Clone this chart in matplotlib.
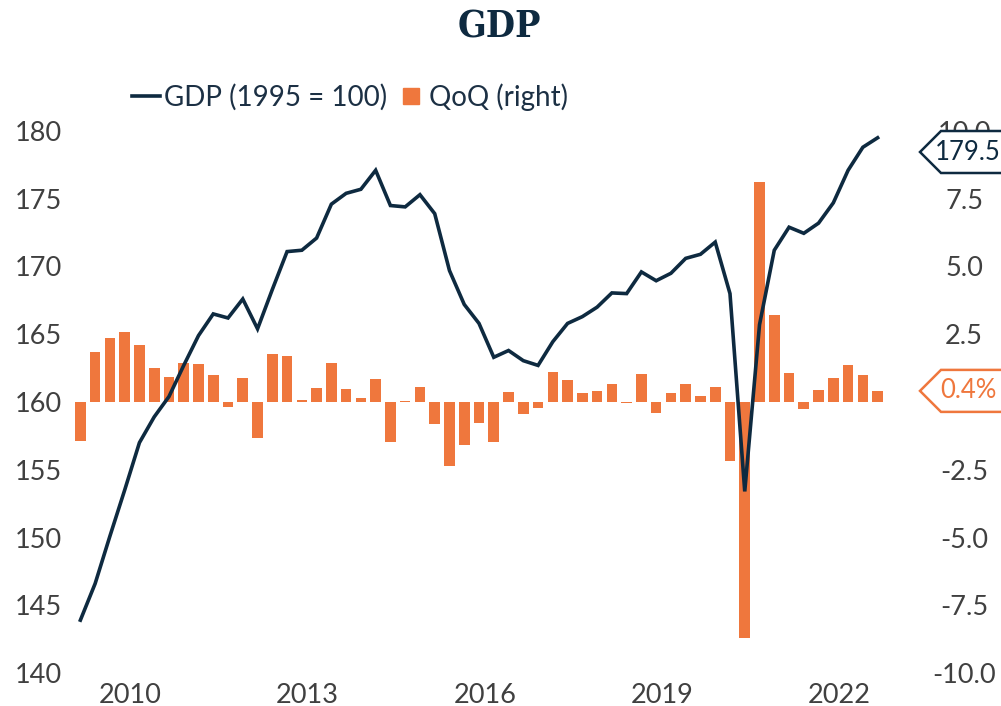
import numpy as np
import matplotlib
matplotlib.use("Agg")
import matplotlib.pyplot as plt
from matplotlib.lines import Line2D
from matplotlib.patches import Polygon

# GDP index (1995 = 100), quarterly 2009Q1 .. 2022Q3
gdp = [143.9, 146.6, 150.1, 153.5, 157.0, 158.9, 160.4, 162.7, 164.9, 166.5,
       166.2, 167.6, 165.4, 168.3, 171.1, 171.2, 172.1, 174.6, 175.4, 175.7,
       177.1, 174.5, 174.4, 175.3, 173.9, 169.7, 167.2, 165.8, 163.3, 163.8,
       163.05, 162.7, 164.45, 165.8, 166.3, 167.0, 168.05, 168.0, 169.6, 168.95,
       169.5, 170.6, 170.9, 171.8, 168.0, 153.4, 165.7, 171.2, 172.9, 172.45,
       173.2, 174.7, 177.1, 178.8, 179.5]

# quarter on quarter change, %
qoq = [-1.43, 1.83, 2.36, 2.58, 2.10, 1.25, 0.91, 1.43, 1.39, 0.98,
       -0.18, 0.87, -1.34, 1.77, 1.71, 0.07, 0.53, 1.45, 0.47, 0.15,
       0.84, -1.46, 0.05, 0.54, -0.81, -2.35, -1.57, -0.79, -1.49, 0.36,
       -0.46, -0.22, 1.10, 0.81, 0.33, 0.41, 0.66, -0.05, 1.03, -0.39,
       0.32, 0.66, 0.21, 0.55, -2.18, -8.71, 8.13, 3.21, 1.06, -0.25,
       0.44, 0.87, 1.35, 0.98, 0.41]

years = [2010, 2013, 2016, 2019, 2022]
left_ticks = [140, 145, 150, 155, 160, 165, 170, 175, 180]
right_ticks = [-10.0, -7.5, -5.0, -2.5, 0.0, 2.5, 5.0, 7.5, 10.0]

navy = "#0e2a40"
orange = "#ef773d"
grey = "#404040"
font = ["Lato", "DejaVu Sans"]
plt.rcParams["font.family"] = font

W, H = 1001, 706
fig = plt.figure(figsize=(W / 100, H / 100), dpi=100)

ax_l, ax_r, ax_t, ax_b = 73, 885, 131, 673
ax = fig.add_axes([ax_l / W, 1 - ax_b / H, (ax_r - ax_l) / W, (ax_b - ax_t) / H])
ax2 = ax.twinx()

x = np.arange(len(gdp))
ax2.bar(x, qoq, width=0.72, color=orange, edgecolor="none")
ax.plot(x, gdp, color=navy, lw=2.6, solid_joinstyle="miter", zorder=5)

ax.set_zorder(ax2.get_zorder() + 1)
ax.patch.set_visible(False)

ax.set_xlim(-0.5, len(gdp) - 0.5)
ax.set_ylim(140, 180)
ax2.set_ylim(-10, 10)

ax.set_xticks([4 * (y - 2009) - 0.6 for y in years])
ax.set_xticklabels([str(y) for y in years])
ax.set_yticks(left_ticks)
ax.set_yticklabels([str(t) for t in left_ticks])
ax2.set_yticks(right_ticks)
ax2.set_yticklabels([f"{t:.1f}" for t in right_ticks])

for a in (ax, ax2):
    for s in a.spines.values():
        s.set_visible(False)
    a.tick_params(length=0, labelsize=19.5, labelcolor=grey)
ax.tick_params(axis="y", pad=8)
ax.tick_params(axis="x", pad=7)
ax2.tick_params(axis="y", pad=57)
for lab in ax2.get_yticklabels():
    lab.set_horizontalalignment("center")

# title
fig.text(499 / W, 1 - 27 / H, "GDP", ha="center", va="center", fontsize=27,
         fontweight="bold", family="DejaVu Serif", fontstretch="condensed", color=navy)

# legend
handles = [Line2D([], [], color=navy, lw=2.6),
           Line2D([], [], color=orange, marker="s", ls="none", markersize=11.5)]
leg = fig.legend(handles, ["GDP (1995 = 100)", "QoQ (right)"], ncol=2,
                 loc="center", bbox_to_anchor=(350 / W, 1 - 97 / H), frameon=False,
                 fontsize=20, handlelength=1.0, handletextpad=0.15, columnspacing=0.35,
                 borderpad=0, borderaxespad=0)
for t in leg.get_texts():
    t.set_color("#1c3044")


# value tags on the right edge
def tag(ypix, text, color):
    half = 21
    ypix = min(ypix, H - ax_t - half)
    tip = ax_r + 35
    corner = tip + 21
    pts = [(tip, ypix), (corner, ypix + half), (W + 10, ypix + half),
           (W + 10, ypix - half), (corner, ypix - half)]
    pts = [(px / W, py / H) for px, py in pts]
    fig.add_artist(Polygon(pts, closed=True, transform=fig.transFigure,
                           facecolor="white", edgecolor=color, lw=1.8, zorder=10))
    fig.text(968 / W, ypix / H, text, ha="center", va="center", fontsize=18.5,
             color=color, zorder=11)


y_gdp = ax.transData.transform((0, gdp[-1]))[1]
y_qoq = ax2.transData.transform((0, qoq[-1]))[1]
tag(y_gdp, f"{gdp[-1]:.1f}", navy)
tag(y_qoq, f"{qoq[-1]:.1f}%", orange)

fig.savefig("out.png", dpi=100)
